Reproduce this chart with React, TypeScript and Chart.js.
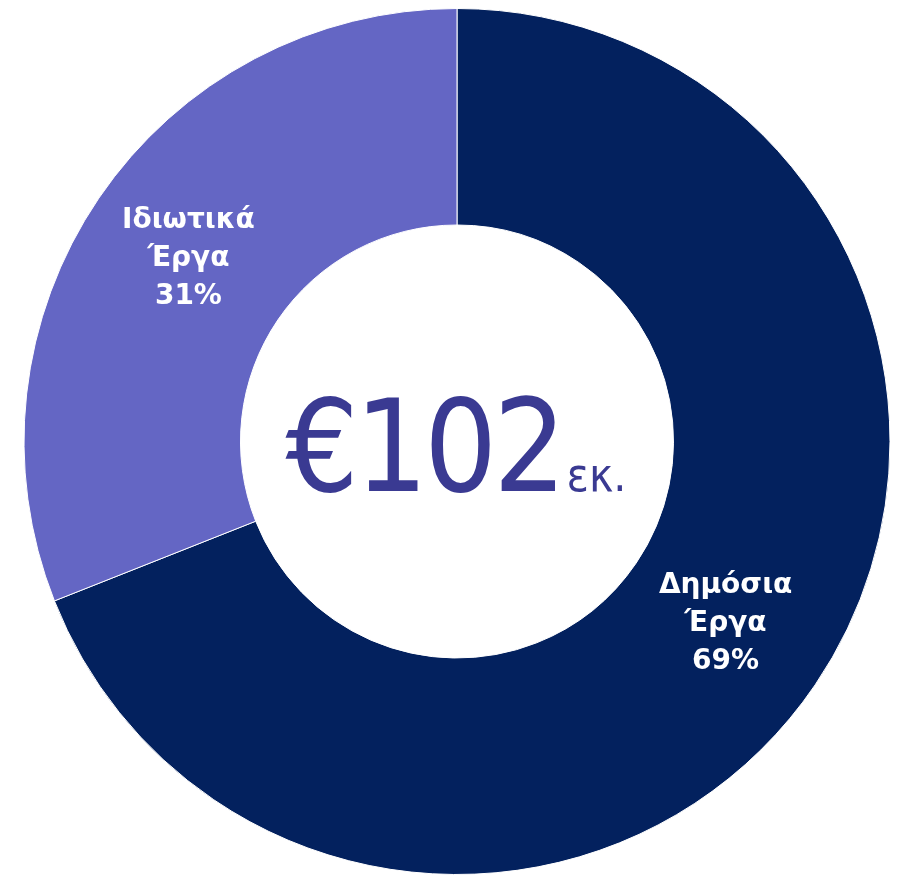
import React, { useEffect, useRef } from "react";
import { Chart, registerables } from "chart.js";

Chart.register(...registerables);

const categories = [["Δημόσια", "Έργα"], ["Ιδιωτικά", "Έργα"]];
const shares = [69, 31];
const colors = ["#03215E", "#6466C4"];
const centerMain = "€102";
const centerSuffix = "εκ.";

const labelPlugin = {
  id: "labelPlugin",
  afterDatasetsDraw(chart: any) {
    const ctx = chart.ctx;
    const meta = chart.getDatasetMeta(0);
    ctx.save();
    ctx.fillStyle = "#ffffff";
    ctx.textAlign = "center";
    ctx.textBaseline = "middle";
    ctx.font = "bold 28px 'DejaVu Sans'";
    meta.data.forEach((arc: any, i: number) => {
      const p = arc.tooltipPosition();
      const lines = [...categories[i], shares[i] + "%"];
      const lh = 38;
      lines.forEach((l, k) => {
        ctx.fillText(l, p.x, p.y + (k - (lines.length - 1) / 2) * lh);
      });
    });
    // center text
    const arc0 = meta.data[0];
    const cx = arc0.x;
    const cy = arc0.y;
    ctx.fillStyle = "#3A3A92";
    ctx.textBaseline = "alphabetic";
    ctx.textAlign = "left";
    const mainFont = "128px 'DejaVu Sans Condensed'";
    const sufFont = "46px 'DejaVu Sans Condensed'";
    ctx.font = mainFont;
    (ctx as any).letterSpacing = "-4px";
    const w1 = ctx.measureText(centerMain).width;
    ctx.font = sufFont;
    (ctx as any).letterSpacing = "0px";
    const w2 = ctx.measureText(centerSuffix).width;
    const total = w1 + w2;
    const x0 = cx - total / 2 - 3;
    const base = cy + 49;
    ctx.font = mainFont;
    (ctx as any).letterSpacing = "-4px";
    ctx.fillText(centerMain, x0, base);
    ctx.font = sufFont;
    (ctx as any).letterSpacing = "0px";
    ctx.fillText(centerSuffix, x0 + w1 + 4, base);
    ctx.restore();
  },
};

export default function App() {
  const ref = useRef<HTMLCanvasElement>(null);
  useEffect(() => {
    document.body.style.margin = "0";
    const chart = new Chart(ref.current!, {
      type: "doughnut",
      data: {
        labels: categories.map((c) => c.join(" ")),
        datasets: [
          {
            data: shares,
            backgroundColor: colors,
            borderColor: "#ffffff",
            borderWidth: 1,
          },
        ],
      },
      options: {
        animation: false,
        responsive: false,
        cutout: "50%",
        layout: { padding: { left: 23, right: 6, top: 8, bottom: 0 } },
        plugins: {
          legend: { display: false },
          tooltip: { enabled: false },
        },
      },
      plugins: [labelPlugin],
    });
    return () => chart.destroy();
  }, []);
  return (
    <div style={{ width: 897, height: 875 }}>
      <canvas ref={ref} width={897} height={875} style={{ display: "block" }} />
    </div>
  );
}
